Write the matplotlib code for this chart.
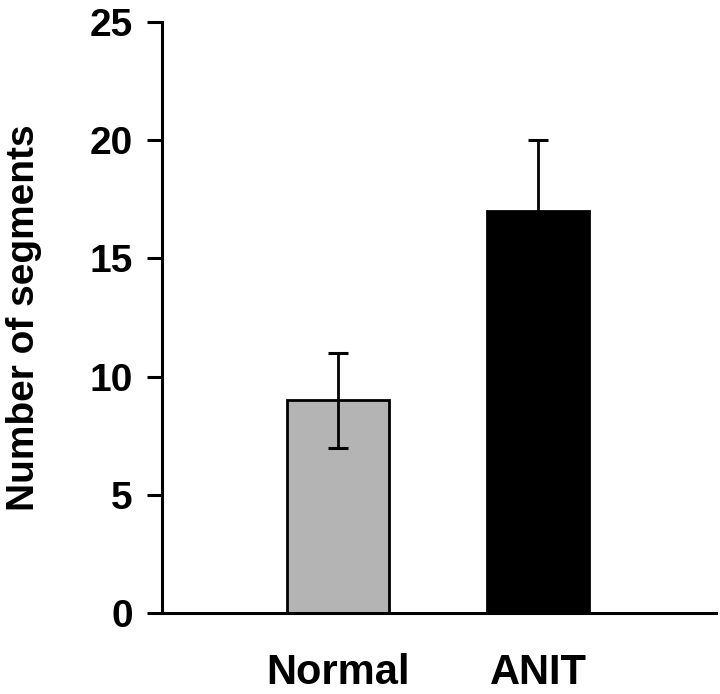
import matplotlib.pyplot as plt

# Data
groups = ["Normal", "ANIT"]
means = [9, 17]
errors = [2, 3]
colors = ["#b4b4b4", "#000000"]

plt.rcParams['font.family'] = ['Liberation Sans', 'DejaVu Sans']
plt.rcParams['font.weight'] = 'bold'

fig = plt.figure(figsize=(7.2, 6.94), dpi=100)
ax = fig.add_axes([0.225, 0.1167, 0.77, 0.8516])

x = range(len(groups))
ax.bar(x, means, width=0.51, color=colors, edgecolor="black", linewidth=2, zorder=2)
ax.errorbar(x, means, yerr=errors, fmt="none", ecolor="black",
            elinewidth=2, capsize=7, capthick=2.2, zorder=3)

ax.set_xlim(-0.88, 1.89)
ax.set_ylim(0, 25)
ax.set_yticks([0, 5, 10, 15, 20, 25])
ax.set_xticks(list(x))
ax.set_xticklabels(groups, fontsize=30, fontweight='bold')
ax.tick_params(axis='x', length=0, pad=29)
ax.tick_params(axis='y', length=11, width=2.2, labelsize=28, pad=10)
for lbl in ax.get_yticklabels():
    lbl.set_fontweight('bold')

ax.set_ylabel("Number of segments", fontsize=28, fontweight='bold', labelpad=34)

ax.spines['top'].set_visible(False)
ax.spines['right'].set_visible(False)
ax.spines['left'].set_linewidth(2.2)
ax.spines['bottom'].set_linewidth(2.2)

fig.savefig("out.png", dpi=100)
